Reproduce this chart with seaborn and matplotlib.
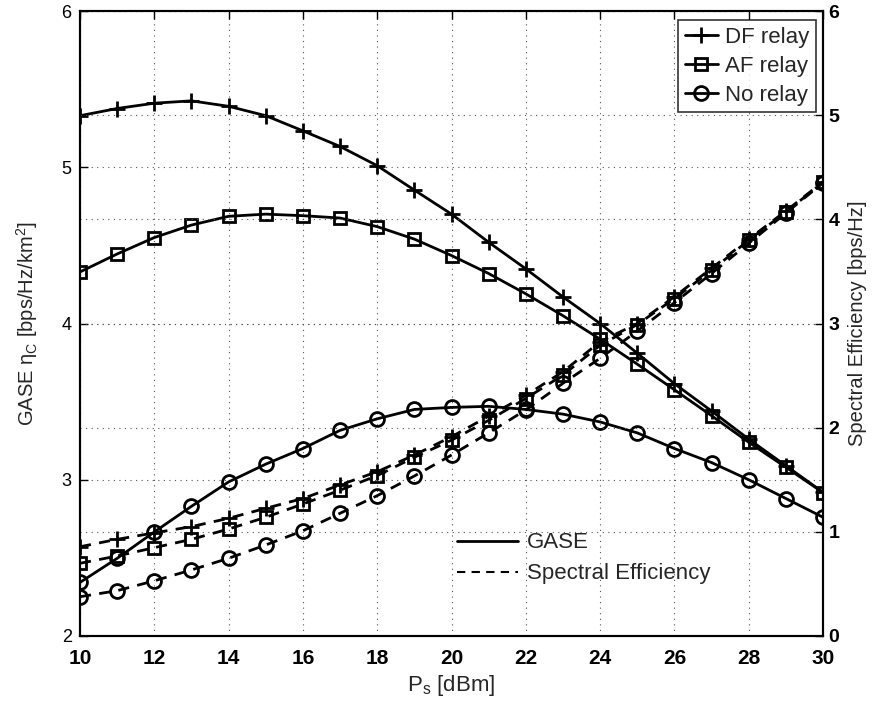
import matplotlib
matplotlib.use("Agg")
import matplotlib.pyplot as plt
import seaborn as sns
import pandas as pd
from matplotlib.lines import Line2D

ps = list(range(10, 31))

gase_df = [5.33, 5.376, 5.41, 5.425, 5.39, 5.33, 5.233, 5.133, 5.01, 4.854, 4.70,
           4.52, 4.35, 4.17, 4.00, 3.81, 3.615, 3.44, 3.26, 3.09, 2.92]
gase_af = [4.33, 4.445, 4.55, 4.63, 4.686, 4.70, 4.69, 4.675, 4.62, 4.54, 4.435,
           4.32, 4.19, 4.05, 3.90, 3.74, 3.576, 3.41, 3.24, 3.08, 2.918]
gase_no = [2.343, 2.497, 2.666, 2.83, 2.986, 3.10, 3.20, 3.316, 3.39, 3.45, 3.463,
           3.47, 3.45, 3.42, 3.37, 3.30, 3.20, 3.11, 3.00, 2.88, 2.76]

se_df = [0.857, 0.928, 0.99, 1.05, 1.13, 1.226, 1.32, 1.45, 1.577, 1.737, 1.913,
         2.11, 2.31, 2.537, 2.825, 3.00, 3.257, 3.53, 3.81, 4.08, 4.36]
se_af = [0.698, 0.768, 0.848, 0.928, 1.027, 1.14, 1.267, 1.40, 1.54, 1.715, 1.88,
         2.07, 2.28, 2.505, 2.79, 2.99, 3.24, 3.51, 3.80, 4.07, 4.355]
se_no = [0.377, 0.435, 0.53, 0.634, 0.746, 0.874, 1.01, 1.178, 1.347, 1.536, 1.737,
         1.95, 2.17, 2.426, 2.666, 2.928, 3.20, 3.48, 3.77, 4.06, 4.35]

schemes = ["DF relay", "AF relay", "No relay"]
markers = {"DF relay": "+", "AF relay": "s", "No relay": "o"}
msizes = {"DF relay": 12, "AF relay": 8, "No relay": 10}

x_ticks = list(range(10, 31, 2))
left_ticks = [2, 3, 4, 5, 6]
right_ticks = [0, 1, 2, 3, 4, 5, 6]

sns.set_style("white")
plt.rcParams['font.family'] = ['Liberation Sans', 'DejaVu Sans']
plt.rcParams['mathtext.fontset'] = 'custom'
plt.rcParams['mathtext.rm'] = 'Liberation Sans'
plt.rcParams['mathtext.it'] = 'Liberation Sans'

fig = plt.figure(figsize=(8.77, 7.04), dpi=100)
ax = fig.add_axes([80/877, 1-636/704, (823-80)/877, (636-11)/704])
ax2 = ax.twinx()

gase = {"DF relay": gase_df, "AF relay": gase_af, "No relay": gase_no}
se = {"DF relay": se_df, "AF relay": se_af, "No relay": se_no}

for s in schemes:
    d = pd.DataFrame({"Ps": ps, "v": gase[s]})
    sns.lineplot(data=d, x="Ps", y="v", ax=ax, color="k", lw=2,
                 marker=markers[s], markersize=msizes[s], markerfacecolor="none",
                 markeredgecolor="k", markeredgewidth=2, zorder=3)
    d2 = pd.DataFrame({"Ps": ps, "v": se[s]})
    sns.lineplot(data=d2, x="Ps", y="v", ax=ax2, color="k", lw=2,
                 linestyle=(0, (4, 3)),
                 marker=markers[s], markersize=msizes[s], markerfacecolor="none",
                 markeredgecolor="k", markeredgewidth=2, zorder=3)

ax.set_xlim(10, 30)
ax.set_ylim(2, 6)
ax2.set_ylim(0, 6)
ax.set_xticks(x_ticks)
ax.set_yticks(left_ticks)
ax2.set_yticks(right_ticks)

ax.grid(True, color="#555555", linestyle=(0, (1, 4)), lw=0.8)
ax2.grid(True, axis="y", color="#555555", linestyle=(0, (1, 4)), lw=0.8)
ax.set_axisbelow(True)

for a in (ax, ax2):
    for sp in a.spines.values():
        sp.set_color("k")
        sp.set_linewidth(1.5)
    a.tick_params(direction="in", length=6, width=1, colors="k", top=True)

ax.tick_params(axis="x", pad=9, labelsize=15)
ax.tick_params(axis="y", pad=6, labelsize=13)
ax2.tick_params(axis="y", pad=4, labelsize=14)
for lab in ax.get_xticklabels():
    lab.set_fontweight("bold")
for lab in ax2.get_yticklabels():
    lab.set_fontweight("bold")

ax.set_xlabel(r"P$_\mathrm{s}$ [dBm]", fontsize=16, labelpad=4)
ax.set_ylabel(r"GASE $\mathrm{\eta}_\mathrm{C}$ [bps/Hz/km$^2$]", fontsize=14.5)
ax.yaxis.set_label_coords(-40/743, 0.5)
ax2.set_ylabel("Spectral Efficiency [bps/Hz]", fontsize=14.5)
ax2.yaxis.set_label_coords(1 + 25/743, 0.5)

handles = [Line2D([], [], color="k", lw=2, marker=markers[s], markersize=msizes[s],
                  markerfacecolor="none", markeredgewidth=2) for s in schemes]
leg1 = ax2.legend(handles, schemes, loc="upper right", fontsize=16,
                  frameon=True, fancybox=False, edgecolor="k", handlelength=1.5,
                  handletextpad=0.3, borderpad=0.3, labelspacing=0.35,
                  borderaxespad=0, bbox_to_anchor=(0.99, 0.985))
leg1.get_frame().set_linewidth(1.2)
leg1.set_zorder(10)
ax2.add_artist(leg1)

h2 = [Line2D([], [], color="k", lw=2), Line2D([], [], color="k", lw=1.5, linestyle=(0, (4, 3)))]
leg2 = ax2.legend(h2, ["GASE", "Spectral Efficiency"], loc="upper left",
                  bbox_to_anchor=(0.495, 0.18), fontsize=16, frameon=False,
                  handlelength=2.75, handletextpad=0.4, labelspacing=0.45,
                  borderaxespad=0)

fig.savefig("out.png", dpi=100, facecolor="white")
